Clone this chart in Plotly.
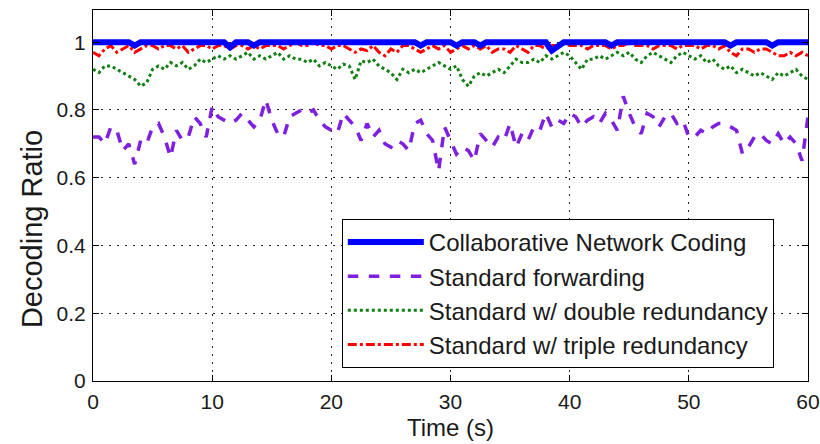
import plotly.graph_objects as go

# time axis (s), 0.5 s steps
time = [i * 0.5 for i in range(121)]

# Collaborative Network Coding
cnc = (
    [1.0, 1.0, 1.0, 1.0, 1.0, 1.0, 1.0, 0.99, 1.0, 1.0, 1.0, 1.0, 1.0, 1.0, 1.0, 1.0, 1.0, 1.0, 1.0, 1.0, 1.0]
    + [1.0, 1.0, 0.985, 1.0, 1.0, 1.0, 0.99, 1.0, 1.0, 1.0, 1.0, 1.0, 1.0, 1.0, 1.0, 1.0, 1.0, 1.0, 1.0, 1.0]
    + [1.0, 1.0, 1.0, 1.0, 1.0, 1.0, 1.0, 1.0, 1.0, 1.0, 1.0, 1.0, 1.0, 1.0, 0.99, 1.0, 1.0, 1.0, 1.0, 1.0]
    + [0.99, 1.0, 1.0, 1.0, 0.99, 1.0, 1.0, 1.0, 1.0, 1.0, 1.0, 1.0, 1.0, 1.0, 1.0, 1.0, 0.975, 0.985, 1.0, 1.0]
    + [1.0, 1.0, 1.0, 1.0, 1.0, 1.0, 0.99, 1.0, 1.0, 1.0, 1.0, 1.0, 1.0, 1.0, 1.0, 1.0, 1.0, 1.0, 1.0, 1.0]
    + [1.0, 1.0, 1.0, 1.0, 1.0, 1.0, 0.99, 1.0, 1.0, 1.0, 1.0, 1.0, 1.0, 0.99, 1.0, 1.0, 1.0, 1.0, 1.0, 1.0]
)

# Standard forwarding
forwarding = (
    [0.72, 0.72, 0.70, 0.75, 0.74, 0.68, 0.70, 0.64, 0.71, 0.70, 0.75, 0.76, 0.72, 0.66, 0.74, 0.71, 0.72, 0.78, 0.76, 0.72, 0.81]
    + [0.78, 0.77, 0.76, 0.77, 0.79, 0.77, 0.75, 0.77, 0.83, 0.77, 0.73, 0.72, 0.78, 0.79, 0.80, 0.79, 0.80, 0.77, 0.75, 0.74]
    + [0.73, 0.79, 0.77, 0.75, 0.71, 0.76, 0.72, 0.74, 0.70, 0.69, 0.71, 0.70, 0.68, 0.76, 0.77, 0.73, 0.71, 0.62, 0.75, 0.71]
    + [0.67, 0.69, 0.68, 0.65, 0.73, 0.71, 0.69, 0.72, 0.71, 0.76, 0.69, 0.73, 0.71, 0.75, 0.74, 0.79, 0.75, 0.77, 0.76, 0.79]
    + [0.78, 0.75, 0.77, 0.78, 0.76, 0.79, 0.77, 0.74, 0.84, 0.79, 0.75, 0.73, 0.79, 0.78, 0.75, 0.78, 0.79, 0.76, 0.77, 0.72]
    + [0.72, 0.74, 0.73, 0.75, 0.76, 0.76, 0.75, 0.74, 0.67, 0.69, 0.72, 0.73, 0.71, 0.70, 0.73, 0.70, 0.72, 0.70, 0.65, 0.78]
)

# Standard w/ double redundancy
double_red = (
    [0.92, 0.91, 0.93, 0.93, 0.92, 0.91, 0.90, 0.89, 0.87, 0.88, 0.92, 0.93, 0.92, 0.94, 0.93, 0.94, 0.92, 0.93, 0.95, 0.94, 0.95]
    + [0.96, 0.95, 0.96, 0.95, 0.96, 0.97, 0.95, 0.96, 0.95, 0.96, 0.97, 0.95, 0.96, 0.95, 0.95, 0.94, 0.95, 0.93, 0.94, 0.93]
    + [0.92, 0.935, 0.93, 0.89, 0.945, 0.94, 0.95, 0.93, 0.92, 0.91, 0.89, 0.92, 0.91, 0.92, 0.91, 0.92, 0.93, 0.94, 0.93, 0.92]
    + [0.93, 0.89, 0.87, 0.90, 0.91, 0.90, 0.91, 0.92, 0.91, 0.93, 0.95, 0.94, 0.94, 0.95, 0.94, 0.96, 0.95, 0.96, 0.97, 0.96]
    + [0.94, 0.92, 0.95, 0.95, 0.96, 0.95, 0.96, 0.97, 0.96, 0.97, 0.95, 0.94, 0.96, 0.97, 0.96, 0.95, 0.94, 0.96, 0.97, 0.96]
    + [0.95, 0.96, 0.94, 0.95, 0.93, 0.92, 0.93, 0.91, 0.92, 0.91, 0.90, 0.91, 0.90, 0.89, 0.91, 0.90, 0.91, 0.92, 0.90, 0.89]
)

# Standard w/ triple redundancy
triple_red = (
    [0.97, 0.96, 0.98, 0.99, 0.97, 0.98, 0.99, 0.97, 0.98, 0.99, 0.99, 0.98, 0.99, 0.99, 0.98, 0.99, 0.97, 0.98, 0.99, 0.99, 0.98]
    + [0.99, 0.99, 0.98, 0.99, 0.99, 0.98, 0.99, 0.98, 0.99, 0.99, 0.99, 0.98, 0.99, 1.0, 0.99, 0.99, 1.0, 0.99, 0.99, 0.98]
    + [0.99, 0.99, 0.98, 0.97, 0.98, 0.975, 0.99, 0.97, 0.96, 0.98, 0.97, 0.99, 0.99, 0.98, 0.97, 0.98, 0.99, 0.98, 0.99, 0.97]
    + [0.98, 0.99, 0.98, 0.99, 0.98, 0.99, 0.97, 0.98, 0.98, 0.97, 0.99, 0.98, 0.97, 0.99, 0.99, 0.98, 0.99, 0.99, 1.0, 0.99]
    + [0.99, 0.99, 0.98, 0.99, 0.99, 0.99, 0.98, 0.99, 0.99, 1.0, 0.99, 0.99, 0.99, 0.98, 0.99, 0.99, 0.99, 0.98, 0.99, 0.99]
    + [0.99, 0.98, 0.99, 0.99, 0.98, 0.99, 0.97, 0.96, 0.98, 0.98, 0.97, 0.98, 0.98, 0.97, 0.96, 0.96, 0.97, 0.96, 0.97, 0.96]
)

x_ticks = [0, 10, 20, 30, 40, 50, 60]
y_ticks = [0, 0.2, 0.4, 0.6, 0.8, 1]
y_tick_labels = ["0", "0.2", "0.4", "0.6", "0.8", "1"]

FONT = "Liberation Sans, Arial, sans-serif"
TXT = "#1a1a1a"

fig = go.Figure()
fig.add_trace(go.Scatter(x=time, y=forwarding, mode="lines", name="Standard forwarding",
                         line=dict(color="#7F1FE0", width=3.5, dash="dash"), legendrank=2))
fig.add_trace(go.Scatter(x=time, y=double_red, mode="lines", name="Standard w/ double redundancy",
                         line=dict(color="#108010", width=3, dash="dot"), legendrank=3))
fig.add_trace(go.Scatter(x=time, y=triple_red, mode="lines", name="Standard w/ triple redundancy",
                         line=dict(color="#FF0000", width=3, dash="dashdot"), legendrank=4))
fig.add_trace(go.Scatter(x=time, y=cnc, mode="lines", name="Collaborative Network Coding",
                         line=dict(color="#0000FF", width=6), legendrank=1))

axis_common = dict(
    showline=True, linecolor="black", linewidth=1, mirror="allticks",
    ticks="inside", ticklen=6, tickcolor="black",
    showgrid=True, gridcolor="#222", gridwidth=1, griddash="2px,6px",
    zeroline=False, automargin=False, ticklabeloverflow="allow",
    tickfont=dict(family=FONT, size=21, color=TXT),
)

fig.update_layout(
    width=820, height=444,
    margin=dict(l=93, r=12, t=10, b=63),
    paper_bgcolor="white", plot_bgcolor="white",
    font=dict(family=FONT, color=TXT),
    showlegend=True,
    legend=dict(
        x=0.348, y=0.437, xanchor="left", yanchor="top",
        bgcolor="white", bordercolor="black", borderwidth=1,
        font=dict(family=FONT, size=24, color=TXT),
        itemwidth=76, tracegroupgap=0,
    ),
    xaxis=dict(range=[0, 60], tickvals=x_ticks, ticklabelstandoff=2,
               title=dict(text="Time (s)", font=dict(family=FONT, size=24, color=TXT), standoff=6),
               **axis_common),
    yaxis=dict(range=[0, 1.095], tickvals=y_ticks, ticktext=y_tick_labels, ticklabelstandoff=2,
               **axis_common),
    annotations=[dict(
        text="Decoding Ratio", textangle=-90, showarrow=False,
        xref="paper", yref="paper", x=-0.085, y=0.41, xanchor="center", yanchor="middle",
        font=dict(family=FONT, size=29, color=TXT),
    )],
)

fig.write_html("out.html", config={"displayModeBar": False},
               post_script="document.body.style.margin='0';")
